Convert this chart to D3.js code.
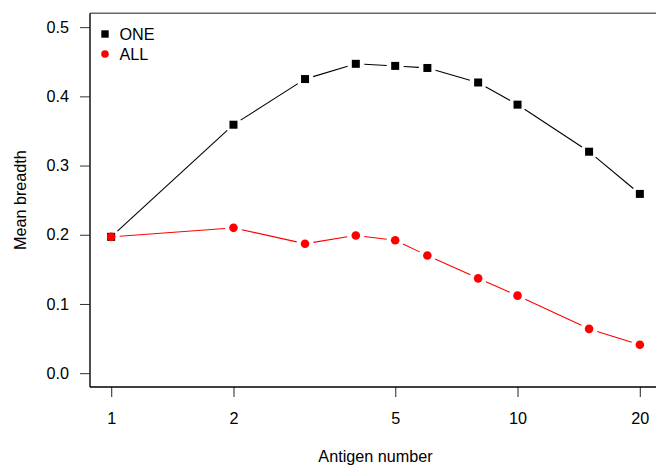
<!DOCTYPE html>
<html>
<head>
<meta charset="utf-8">
<script src="https://cdn.jsdelivr.net/npm/d3@7"></script>
<style>
  html, body { margin: 0; padding: 0; background: #fff; }
  svg { display: block; }
  text { font-family: "Liberation Sans", Arial, sans-serif; fill: #000; }
</style>
</head>
<body>
<svg id="chart" width="656" height="465"></svg>
<script>
const antigenNumbers = [1, 2, 3, 4, 5, 6, 8, 10, 15, 20];
const oneValues = [0.197, 0.359, 0.425, 0.447, 0.444, 0.441, 0.420, 0.388, 0.320, 0.259];
const allValues = [0.197, 0.210, 0.187, 0.199, 0.192, 0.170, 0.137, 0.112, 0.064, 0.041];
const xTicks = [1, 2, 5, 10, 20];
const yTicks = [0.0, 0.1, 0.2, 0.3, 0.4, 0.5];
const seriesNames = ["ONE", "ALL"];

(function () {
const svg = d3.select("#chart");
const W = 656, H = 465;
const pLeft = 90, pRight = 661, pTop = 13.3, pBottom = 387;

// R-style 4% extension of the data range
const xDom = [1, 20];
const lx0 = Math.log10(xDom[0]), lx1 = Math.log10(xDom[1]);
const xPad = (lx1 - lx0) * 0.04;
const x = d3.scaleLog()
  .domain([Math.pow(10, lx0 - xPad), Math.pow(10, lx1 + xPad)])
  .range([pLeft, pRight]);
const yPad = 0.5 * 0.04;
const y = d3.scaleLinear().domain([0 - yPad, 0.5 + yPad]).range([pBottom, pTop]);

const fontSize = 16.2;

// Axes
const yAxis = d3.axisLeft(y).tickValues(yTicks).tickFormat(d3.format(".1f")).tickSize(10).tickPadding(11);
const gy = svg.append("g").attr("transform", `translate(${pLeft},0)`).call(yAxis);
gy.select(".domain").remove();
gy.selectAll("line").attr("stroke", "#333").attr("stroke-width", 1);
gy.selectAll("text").style("font-size", fontSize + "px").attr("font-family", null);

const xAxis = d3.axisBottom(x).tickValues(xTicks).tickFormat(d3.format("d")).tickSize(10).tickPadding(15.5);
const gx = svg.append("g").attr("transform", `translate(0,${pBottom})`).call(xAxis);
gx.select(".domain").remove();
gx.selectAll("line").attr("stroke", "#555").attr("stroke-width", 1.3);
gx.selectAll("text").style("font-size", fontSize + "px").attr("font-family", null);

// Box (cropped on the right)
svg.append("line").attr("x1", pLeft).attr("x2", W + 5).attr("y1", pTop).attr("y2", pTop)
  .attr("stroke", "#666").attr("stroke-width", 1.6);
svg.append("line").attr("x1", pLeft).attr("x2", pLeft).attr("y1", pTop).attr("y2", pBottom)
  .attr("stroke", "#222").attr("stroke-width", 1.6);
svg.append("line").attr("x1", pLeft).attr("x2", W + 5).attr("y1", pBottom).attr("y2", pBottom)
  .attr("stroke", "#000").attr("stroke-width", 1.6);

// Lines with gaps around points (type = "b")
function gapSegments(vals) {
  const pts = antigenNumbers.map((a, i) => [x(a), y(vals[i])]);
  const segs = [];
  const gap = 8.5;
  for (let i = 0; i < pts.length - 1; i++) {
    const [x0, y0] = pts[i], [x1, y1] = pts[i + 1];
    const dx = x1 - x0, dy = y1 - y0, L = Math.hypot(dx, dy);
    if (L <= 2 * gap) continue;
    const ux = dx / L, uy = dy / L;
    segs.push([x0 + ux * gap, y0 + uy * gap, x1 - ux * gap, y1 - uy * gap]);
  }
  return segs;
}

function drawSeries(vals, color) {
  svg.append("g").selectAll("line").data(gapSegments(vals)).join("line")
    .attr("x1", d => d[0]).attr("y1", d => d[1]).attr("x2", d => d[2]).attr("y2", d => d[3])
    .attr("stroke", color).attr("stroke-width", 1.1);
}

drawSeries(oneValues, "#000");
drawSeries(allValues, "#ff0000");

const sq = 8;
svg.append("g").selectAll("rect").data(antigenNumbers).join("rect")
  .attr("x", d => x(d) - sq / 2).attr("y", (d, i) => y(oneValues[i]) - sq / 2)
  .attr("width", sq).attr("height", sq).attr("fill", "#000");

svg.append("g").selectAll("circle").data(antigenNumbers).join("circle")
  .attr("cx", d => x(d)).attr("cy", (d, i) => y(allValues[i])).attr("r", 4.3)
  .attr("fill", "#ff0000");

// Legend
const lg = svg.append("g");
lg.append("rect").attr("x", 105 - 3.7).attr("y", 34 - 3.7).attr("width", 7.4).attr("height", 7.4).attr("fill", "#000");
lg.append("circle").attr("cx", 105).attr("cy", 54).attr("r", 3.8).attr("fill", "#ff0000");
lg.selectAll("text").data(seriesNames).join("text")
  .attr("x", 119.5).attr("y", (d, i) => 40 + i * 19.5)
  .style("font-size", fontSize + "px").text(d => d);

// Axis titles
svg.append("text").attr("x", (pLeft + pRight) / 2).attr("y", 462).attr("text-anchor", "middle")
  .style("font-size", fontSize + "px").text("Antigen number");
svg.append("text").attr("transform", `translate(25.5,${(pTop + pBottom) / 2}) rotate(-90)`)
  .attr("text-anchor", "middle").style("font-size", fontSize + "px").text("Mean breadth");
})();
</script>
</body>
</html>
